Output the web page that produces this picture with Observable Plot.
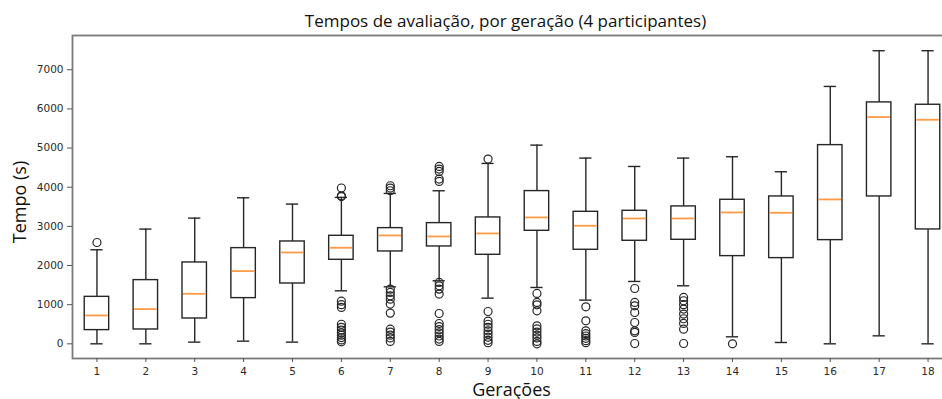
<!DOCTYPE html>
<html>
<head>
<meta charset="utf-8">
<script src="https://cdn.jsdelivr.net/npm/d3@7"></script>
<script src="https://cdn.jsdelivr.net/npm/@observablehq/plot@0.6"></script>
<style>
  html, body { margin: 0; padding: 0; background: #fff; }
  #chart svg { display: block; }
</style>
</head>
<body>
<div id="chart"></div>
<script>
// Gerações 1..18
const generations = [1,2,3,4,5,6,7,8,9,10,11,12,13,14,15,16,17,18];
const whiskerLow  = [0,    0,    43,   68,   43,   1354, 1456, 1610, 1167, 1439, 1116, 1593, 1482, 179,  34,   0,    204,  0];
const q1          = [350,  366,  647,  1167, 1541, 2146, 2359, 2487, 2274, 2887, 2402, 2632, 2657, 2240, 2189, 2648, 3764, 2921];
const medians     = [724,  886,  1277, 1857, 2333, 2453, 2768, 2743, 2819, 3228, 3015, 3202, 3202, 3355, 3347, 3688, 5792, 5723];
const q3          = [1200, 1627, 2078, 2444, 2614, 2759, 2955, 3083, 3228, 3901, 3372, 3398, 3509, 3679, 3764, 5075, 6166, 6106];
const whiskerHigh = [2402, 2930, 3211, 3730, 3569, 3740, 3841, 3909, 4607, 5075, 4744, 4530, 4744, 4778, 4395, 6574, 7486, 7486];
const outliers = [
  [2588],
  [],
  [],
  [],
  [],
  [3980, 3780, 3760, 1090, 1000, 930, 500, 420, 350, 280, 220, 160, 100, 50],
  [4037, 3978, 3909, 1397, 1312, 1227, 1141, 1014, 784, 375, 300, 220, 150, 60],
  [4530, 4463, 4402, 4208, 4147, 1567, 1482, 1397, 1270, 775, 519, 440, 360, 280, 200, 120, 60],
  [4718, 826, 580, 500, 420, 330, 250, 170, 90, 30],
  [1286, 1056, 997, 843, 460, 380, 300, 220, 150, 60, 0],
  [945, 588, 332, 260, 200, 140, 80, 30],
  [1413, 1056, 971, 800, 545, 332, 290, 8],
  [1184, 1100, 1000, 887, 760, 640, 520, 375, 8],
  [0],
  [],
  [],
  [],
  []
];
const yTicks = [0, 1000, 2000, 3000, 4000, 5000, 6000, 7000];
const title = "Tempos de avaliação, por geração (4 participantes)";
const xLabel = "Gerações";
const yLabel = "Tempo (s)";

const boxes = generations.map((g, i) => ({
  g, lo: whiskerLow[i], q1: q1[i], med: medians[i], q3: q3[i], hi: whiskerHigh[i]
}));
const fliers = generations.flatMap((g, i) => outliers[i].map(v => ({g, v})));

const halfBox = 0.25, halfCap = 0.125;
const lineColor = "#262626";
const textFont = "'Open Sans', 'Noto Sans', sans-serif";

const chart = Plot.plot({
  width: 942,
  height: 399,
  marginTop: 35,
  marginBottom: 41,
  marginLeft: 72,
  marginRight: -10,
  style: { fontFamily: "'DejaVu Sans', sans-serif", fontSize: "10.5px", color: "#2a2a2a", background: "#fff" },
  x: { type: "linear", domain: [0.5, 18.5] },
  y: { domain: [-375, 7875] },
  marks: [
    Plot.frame({ stroke: "#7a7a7a", strokeWidth: 1.8 }),
    Plot.axisX({ ticks: generations, tickFormat: d3.format("d"), tickSize: 4, tickPadding: 5, label: null, stroke: "#555" }),
    Plot.axisY({ ticks: yTicks, tickFormat: d3.format("d"), tickSize: 5, tickPadding: 4, label: null, stroke: "#555" }),
    // whiskers
    Plot.ruleX(boxes, { x: "g", y1: "lo", y2: "q1", stroke: lineColor, strokeWidth: 1.4 }),
    Plot.ruleX(boxes, { x: "g", y1: "q3", y2: "hi", stroke: lineColor, strokeWidth: 1.4 }),
    // caps
    Plot.ruleY(boxes, { y: "lo", x1: d => d.g - halfCap, x2: d => d.g + halfCap, stroke: lineColor, strokeWidth: 1.4 }),
    Plot.ruleY(boxes, { y: "hi", x1: d => d.g - halfCap, x2: d => d.g + halfCap, stroke: lineColor, strokeWidth: 1.4 }),
    // boxes
    Plot.rect(boxes, { x1: d => d.g - halfBox, x2: d => d.g + halfBox, y1: "q1", y2: "q3", fill: "white", stroke: lineColor, strokeWidth: 1.4 }),
    // medians
    Plot.ruleY(boxes, { y: "med", x1: d => d.g - halfBox + 0.02, x2: d => d.g + halfBox - 0.02, stroke: "#ff9a45", strokeWidth: 1.8 }),
    // outliers
    Plot.dot(fliers, { x: "g", y: "v", r: 4, stroke: lineColor, strokeWidth: 1.2, fill: "none" }),
    // title & labels
    Plot.text([title], { frameAnchor: "top", dy: -21, dx: -7, fontSize: 17, fontFamily: textFont, fill: "#111" }),
    Plot.text([xLabel], { frameAnchor: "bottom", dy: 37, dx: -1, fontSize: 18, fontFamily: textFont, fill: "#111" }),
    Plot.text([yLabel], { frameAnchor: "left", textAnchor: "middle", rotate: -90, dx: -52, dy: 5, fontSize: 18, fontFamily: textFont, fill: "#111" })
  ]
});
document.getElementById("chart").appendChild(chart);
</script>
</body>
</html>
